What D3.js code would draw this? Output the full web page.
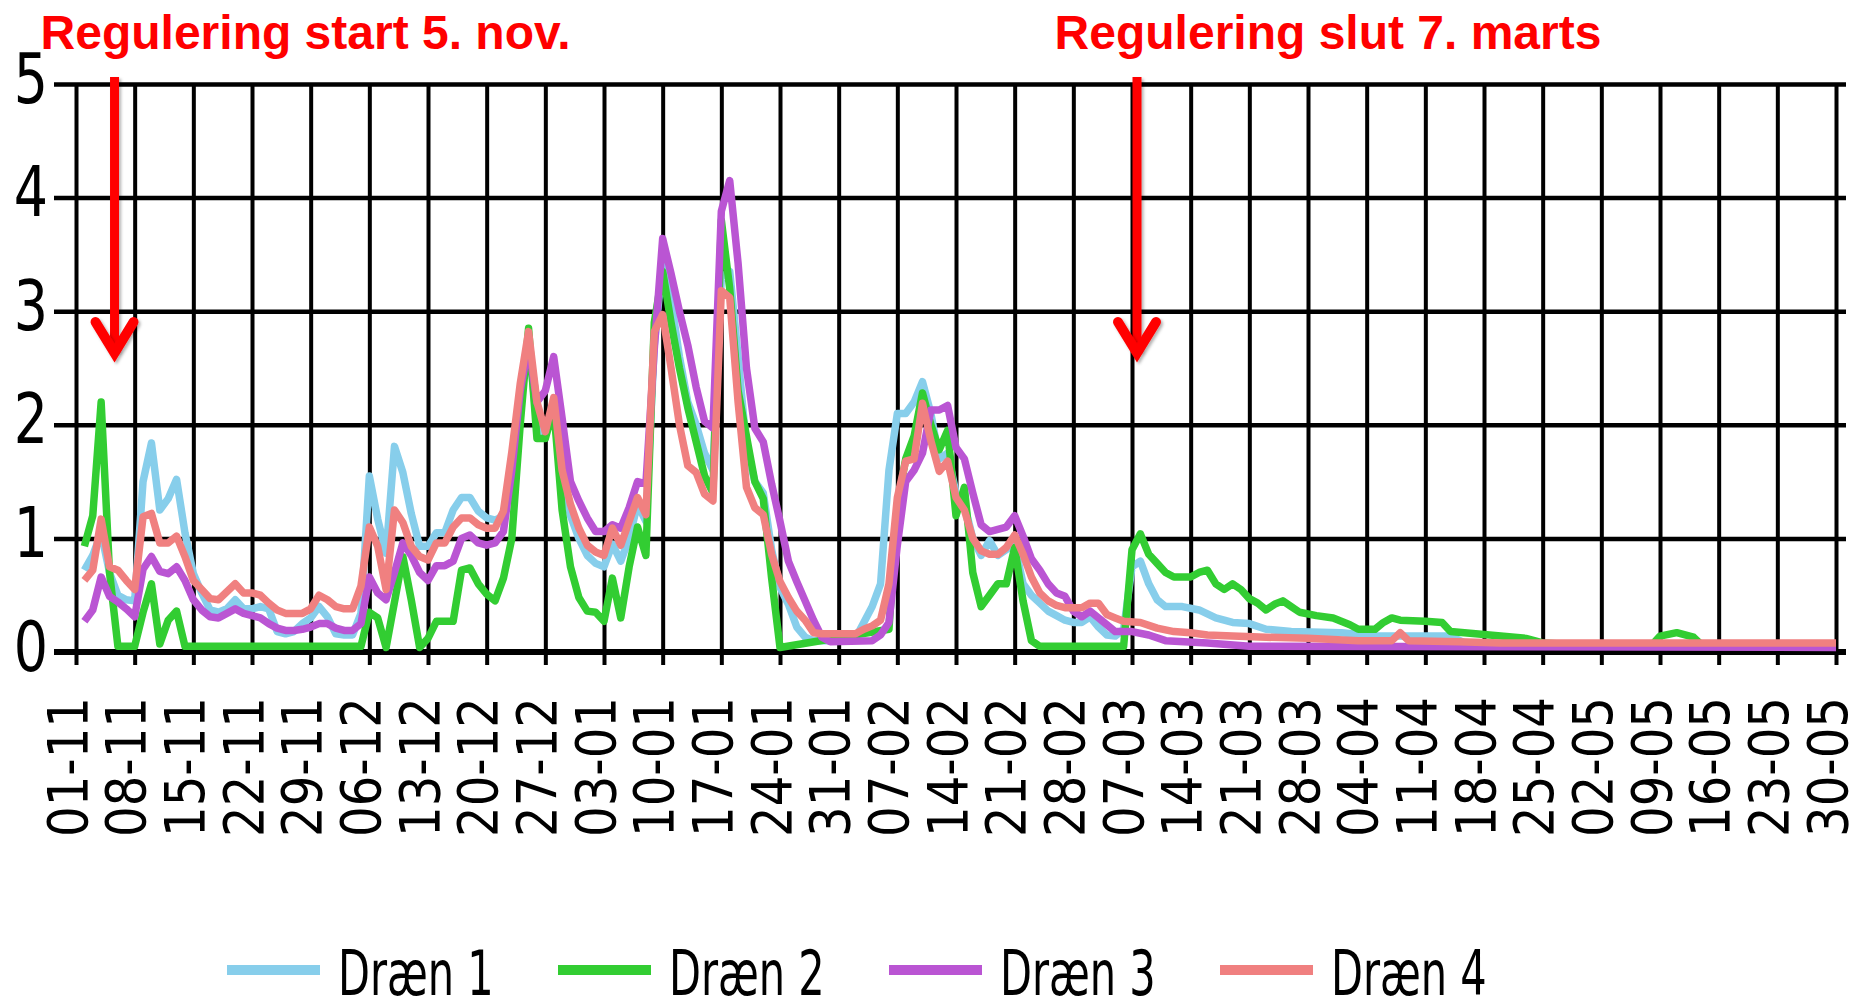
<!DOCTYPE html>
<html>
<head>
<meta charset="utf-8">
<script src="https://cdn.jsdelivr.net/npm/d3@7"></script>
<style>
html, body { margin: 0; padding: 0; background: #fff; overflow: hidden; }
svg { display: block; }
</style>
</head>
<body>
<svg id="chart" width="1852" height="999"></svg>
<script>
// week labels on the x axis (dd-mm), first one is day 0 of the series
var weekLabels = ["01-11","08-11","15-11","22-11","29-11","06-12","13-12","20-12","27-12",
	"03-01","10-01","17-01","24-01","31-01","07-02","14-02","21-02","28-02","07-03","14-03",
	"21-03","28-03","04-04","11-04","18-04","25-04","02-05","09-05","16-05","23-05","30-05"];
var yTicks = [0, 1, 2, 3, 4, 5];
var seriesNames = ["Dræn 1", "Dræn 2", "Dræn 3", "Dræn 4"];

// [days since 01-11, value]
var drain1 = [[1,0.72],[2,0.85],[3,1.05],[4,0.7],[5,0.5],[6,0.46],[7,0.45],[8,1.5],[9,1.84],[10,1.25],
	[11,1.35],[12,1.52],[13,1.05],[14,0.69],[15,0.52],[16,0.37],[17,0.35],[18,0.38],[19,0.46],[20,0.38],
	[21,0.38],[22,0.4],[23,0.38],[24,0.18],[25,0.16],[26,0.18],[27,0.25],[28,0.3],[29,0.4],[30,0.31],
	[31,0.16],[32,0.15],[33,0.15],[34,0.34],[35,1.55],[36,1.17],[37,0.87],[38,1.81],[39,1.58],[40,1.22],
	[41,0.93],[42,0.93],[43,1.05],[44,1.05],[45,1.25],[46,1.36],[47,1.36],[48,1.24],[49,1.18],[50,1.16],
	[51,1.2],[52,1.65],[53,2.3],[54,2.75],[55,2.0],[56,1.9],[57,2.2],[58,1.55],[59,1.2],[60,1.0],
	[61,0.85],[62,0.78],[63,0.75],[64,0.95],[65,0.8],[66,1.0],[67,1.3],[68,1.15],[69,2.7],[70,3.45],
	[71,3.1],[72,2.6],[73,2.2],[74,2.0],[75,1.75],[76,1.6],[77,3.3],[78,3.35],[79,2.6],[80,1.8],
	[81,1.5],[82,1.4],[83,0.9],[84,0.57],[85,0.42],[86,0.22],[87,0.13],[88,0.1],[92,0.1],[93,0.12],
	[94,0.26],[95,0.4],[96,0.6],[97,1.6],[98,2.1],[99,2.1],[100,2.2],[101,2.38],[102,2.1],[103,1.7],
	[104,1.75],[105,1.4],[106,1.3],[107,1.0],[108,0.85],[109,0.98],[110,0.85],[111,0.9],[112,0.95],[113,0.6],
	[114,0.5],[115,0.43],[116,0.36],[117,0.32],[118,0.28],[119,0.26],[120,0.26],[121,0.31],[122,0.22],[123,0.15],
	[124,0.14],[125,0.2],[126,0.75],[127,0.8],[128,0.6],[129,0.46],[130,0.4],[132,0.4],[134,0.37],[136,0.3],
	[138,0.26],[140,0.25],[142,0.2],[145,0.18],[151,0.17],[155,0.14],[164,0.14],[166,0.07],[210,0.06]];

var drain2 = [[1,0.93],[2,1.2],[3,2.2],[4,0.7],[5,0.05],[6,0.05],[7,0.05],[8,0.35],[9,0.6],[10,0.07],
	[11,0.28],[12,0.36],[13,0.05],[34,0.05],[35,0.35],[36,0.3],[37,0.04],[39,0.84],[40,0.46],[41,0.04],
	[42,0.12],[43,0.27],[44,0.27],[45,0.27],[46,0.72],[47,0.74],[48,0.6],[49,0.51],[50,0.45],[51,0.65],
	[52,1.0],[53,2.0],[54,2.85],[55,1.88],[56,1.88],[57,2.15],[58,1.25],[59,0.75],[60,0.48],[61,0.36],
	[62,0.35],[63,0.27],[64,0.65],[65,0.3],[66,0.75],[67,1.1],[68,0.85],[69,2.9],[70,3.35],[71,2.9],
	[72,2.5],[73,2.15],[74,1.85],[75,1.55],[76,1.4],[77,3.8],[78,3.2],[79,2.3],[80,1.9],[81,1.5],
	[82,1.35],[83,0.65],[84,0.04],[97,0.2],[98,1.3],[99,1.7],[100,1.9],[101,2.28],[102,2.0],[103,1.78],
	[104,1.95],[105,1.2],[106,1.45],[107,0.7],[108,0.4],[109,0.5],[110,0.6],[111,0.6],[112,0.92],[113,0.45],
	[114,0.1],[115,0.05],[125,0.05],[126,0.9],[127,1.04],[128,0.86],[129,0.78],[130,0.7],[131,0.66],[132,0.66],
	[133,0.66],[134,0.7],[135,0.72],[136,0.6],[137,0.55],[138,0.6],[139,0.55],[140,0.47],[141,0.43],[142,0.37],
	[143,0.42],[144,0.45],[145,0.4],[146,0.35],[148,0.32],[150,0.3],[152,0.24],[153,0.2],[155,0.2],[156,0.26],
	[157,0.3],[158,0.28],[161,0.27],[163,0.26],[164,0.18],[167,0.16],[170,0.14],[173,0.12],[175,0.08],[180,0.06],
	[188,0.06],[189,0.14],[191,0.17],[193,0.13],[194,0.06],[210,0.06]];

var drain3 = [[1,0.27],[2,0.37],[3,0.66],[4,0.49],[5,0.44],[6,0.38],[7,0.31],[8,0.73],[9,0.84],[10,0.71],
	[11,0.69],[12,0.75],[13,0.63],[14,0.46],[15,0.37],[16,0.31],[17,0.3],[18,0.34],[19,0.38],[20,0.34],
	[21,0.32],[22,0.3],[23,0.25],[24,0.21],[25,0.19],[26,0.19],[27,0.2],[28,0.22],[29,0.25],[30,0.25],
	[31,0.21],[32,0.19],[33,0.19],[34,0.25],[35,0.66],[36,0.52],[37,0.46],[38,0.7],[39,0.96],[40,0.85],
	[41,0.7],[42,0.63],[43,0.76],[44,0.76],[45,0.8],[46,1.0],[47,1.03],[48,0.96],[49,0.94],[50,0.96],
	[51,1.06],[52,1.6],[53,2.3],[54,2.7],[55,2.2],[56,2.3],[57,2.6],[58,2.06],[59,1.5],[60,1.33],
	[61,1.18],[62,1.06],[63,1.06],[64,1.12],[65,1.09],[66,1.27],[67,1.5],[68,1.48],[69,2.67],[70,3.64],
	[71,3.33],[72,3.0],[73,2.7],[74,2.33],[75,2.03],[76,1.97],[77,3.88],[78,4.15],[79,3.42],[80,2.5],
	[81,1.97],[82,1.85],[83,1.48],[84,1.15],[85,0.8],[86,0.62],[87,0.45],[88,0.28],[89,0.13],[90,0.09],
	[95,0.1],[96,0.15],[97,0.26],[98,0.94],[99,1.5],[100,1.6],[101,1.75],[102,2.13],[103,2.13],[104,2.17],
	[105,1.8],[106,1.7],[107,1.4],[108,1.12],[109,1.06],[110,1.08],[111,1.1],[112,1.2],[113,1.02],[114,0.82],
	[115,0.72],[116,0.6],[117,0.52],[118,0.49],[119,0.36],[120,0.31],[121,0.36],[122,0.3],[123,0.24],[124,0.18],
	[126,0.18],[128,0.15],[130,0.1],[135,0.08],[140,0.05],[210,0.04]];

var drain4 = [[1,0.63],[2,0.72],[3,1.17],[4,0.75],[5,0.72],[6,0.63],[7,0.55],[8,1.19],[9,1.22],[10,0.96],
	[11,0.96],[12,1.02],[13,0.84],[14,0.63],[15,0.55],[16,0.47],[17,0.46],[18,0.53],[19,0.6],[20,0.52],
	[21,0.52],[22,0.5],[23,0.43],[24,0.37],[25,0.34],[26,0.34],[27,0.34],[28,0.38],[29,0.5],[30,0.46],
	[31,0.4],[32,0.38],[33,0.38],[34,0.58],[35,1.1],[36,0.93],[37,0.55],[38,1.25],[39,1.14],[40,0.93],
	[41,0.84],[42,0.81],[43,0.96],[44,0.96],[45,1.1],[46,1.18],[47,1.18],[48,1.12],[49,1.09],[50,1.09],
	[51,1.24],[52,1.76],[53,2.36],[54,2.82],[55,2.2],[56,1.94],[57,2.24],[58,1.6],[59,1.3],[60,1.09],
	[61,0.94],[62,0.88],[63,0.85],[64,1.09],[65,0.94],[66,1.15],[67,1.36],[68,1.21],[69,2.82],[70,2.97],
	[71,2.5],[72,2.0],[73,1.64],[74,1.58],[75,1.39],[76,1.33],[77,3.18],[78,3.12],[79,2.2],[80,1.45],
	[81,1.27],[82,1.21],[83,0.86],[84,0.62],[85,0.48],[86,0.36],[87,0.28],[88,0.17],[89,0.16],[93,0.16],
	[94,0.2],[95,0.23],[96,0.28],[97,0.6],[98,1.36],[99,1.68],[100,1.7],[101,2.19],[102,1.86],[103,1.59],
	[104,1.68],[105,1.36],[106,1.25],[107,1.0],[108,0.89],[109,0.86],[110,0.86],[111,0.92],[112,1.03],[113,0.86],
	[114,0.66],[115,0.52],[116,0.45],[117,0.41],[118,0.39],[119,0.39],[120,0.39],[121,0.43],[122,0.43],[123,0.33],
	[124,0.3],[125,0.27],[127,0.26],[129,0.21],[131,0.18],[133,0.17],[135,0.15],[138,0.14],[142,0.13],[147,0.12],
	[153,0.1],[157,0.1],[158,0.17],[159,0.1],[165,0.09],[170,0.08],[210,0.08]];

var notes = [
	{ label: "Regulering start 5. nov.", day: 4 },
	{ label: "Regulering slut 7. marts", day: 126 }
];

var colors = ["#87ceeb", "#32cd32", "#ba55d3", "#f08080"];
var plotL = 76, plotR = 1836, plotT = 84, plotB = 652;

var svg = d3.select("#chart");

function parseLabel(s) {
	var p = s.split("-"), m = +p[1];
	return new Date(m >= 11 ? 2012 : 2013, m - 1, +p[0]);
}
var startDate = parseLabel(weekLabels[0]);
function dayDate(d) {
	return d3.timeDay.offset(startDate, d);
}

var x = d3.scaleTime()
	.domain([startDate, parseLabel(weekLabels[weekLabels.length - 1])])
	.range([plotL, plotR]);
var y = d3.scaleLinear().domain([0, 5]).range([plotB, plotT]);

// soft shadow under the red arrows (user space so a straight stroke still gets it)
svg.append("defs").append("filter").attr("id", "shadow")
	.attr("filterUnits", "userSpaceOnUse")
	.attr("x", -500).attr("y", -100).attr("width", 3000).attr("height", 1300)
	.append("feDropShadow")
	.attr("dx", 2).attr("dy", 2).attr("stdDeviation", 1.5)
	.attr("flood-color", "#000").attr("flood-opacity", 0.3);

// horizontal grid + y labels
var yAxis = svg.append("g")
	.attr("transform", "translate(" + plotL + ",0)")
	.call(d3.axisLeft(y)
		.tickValues(yTicks)
		.tickFormat(d3.format("d"))
		.tickSize(-(plotR - plotL) - 10)
		.tickPadding(0));
yAxis.select(".domain").remove();
yAxis.selectAll(".tick line")
	.attr("x1", -22)
	.attr("stroke", "#000")
	.attr("stroke-width", 4.5);
yAxis.selectAll(".tick text")
	.attr("x", -36)
	.attr("dy", null)
	.attr("y", 18)
	.attr("transform", "scale(0.78,1)")
	.attr("text-anchor", "end")
	.attr("fill", "#000")
	.style("font-family", "'DejaVu Sans', sans-serif")
	.style("font-size", "69px");

// vertical grid, ticks and rotated date labels
var xAxis = svg.append("g")
	.attr("transform", "translate(0," + plotB + ")")
	.call(d3.axisBottom(x)
		.tickValues(weekLabels.map(parseLabel))
		.tickFormat(d3.timeFormat("%d-%m"))
		.tickSizeOuter(0)
		.tickSizeInner(13));
xAxis.select(".domain").remove();
xAxis.selectAll(".tick line")
	.attr("y1", -(plotB - plotT))
	.attr("stroke", "#000")
	.attr("stroke-width", 4);
xAxis.selectAll(".tick text")
	.attr("x", 0)
	.attr("y", 0)
	.attr("dy", null)
	.attr("text-anchor", "end")
	.attr("transform", "translate(10,45) rotate(-90) scale(0.86,1)")
	.attr("fill", "#000")
	.style("font-family", "'DejaVu Sans', sans-serif")
	.style("font-size", "56px");

// zero line drawn again, thicker, over the vertical grid
svg.append("line")
	.attr("x1", plotL - 22).attr("x2", plotR + 10)
	.attr("y1", y(0)).attr("y2", y(0))
	.attr("stroke", "#000").attr("stroke-width", 6);

var line = d3.line()
	.x(function(d) { return x(dayDate(d[0])); })
	.y(function(d) { return y(d[1]); });

var series = [drain1, drain2, drain3, drain4];
svg.append("g").selectAll("path")
	.data(series)
	.join("path")
	.attr("d", line)
	.attr("fill", "none")
	.attr("stroke", function(d, i) { return colors[i]; })
	.attr("stroke-width", 7.5)
	.attr("stroke-linejoin", "round")
	.attr("stroke-linecap", "butt");

// annotations
var noteG = svg.append("g").selectAll("g")
	.data(notes)
	.join("g")
	.attr("transform", function(d) { return "translate(" + (x(dayDate(d.day)) + 5) + ",0)"; });

noteG.append("path")
	.attr("d", "M0,77V352")
	.attr("stroke", "#ff0000")
	.attr("stroke-width", 9)
	.attr("filter", "url(#shadow)");
noteG.append("path")
	.attr("d", "M-19,322L0,353L19,322")
	.attr("fill", "none")
	.attr("stroke", "#ff0000")
	.attr("stroke-width", 10)
	.attr("stroke-linecap", "round")
	.attr("stroke-linejoin", "miter")
	.attr("filter", "url(#shadow)");
noteG.append("text")
	.attr("x", 191)
	.attr("y", 49)
	.attr("text-anchor", "middle")
	.attr("fill", "#ff0000")
	.style("font-family", "'Liberation Sans', Arial, sans-serif")
	.style("font-weight", "bold")
	.style("font-size", "48px")
	.text(function(d) { return d.label; });

// legend
var legend = svg.append("g").selectAll("g")
	.data(seriesNames)
	.join("g")
	.attr("transform", function(d, i) { return "translate(" + (227 + i * 331) + ",0)"; });
legend.append("line")
	.attr("x1", 0).attr("x2", 93)
	.attr("y1", 970).attr("y2", 970)
	.attr("stroke", function(d, i) { return colors[i]; })
	.attr("stroke-width", 10);
legend.append("text")
	.attr("transform", "translate(111,995) scale(0.67,1)")
	.attr("fill", "#000")
	.style("font-family", "'DejaVu Sans', sans-serif")
	.style("font-size", "62px")
	.text(function(d) { return d; });
</script>
</body>
</html>
